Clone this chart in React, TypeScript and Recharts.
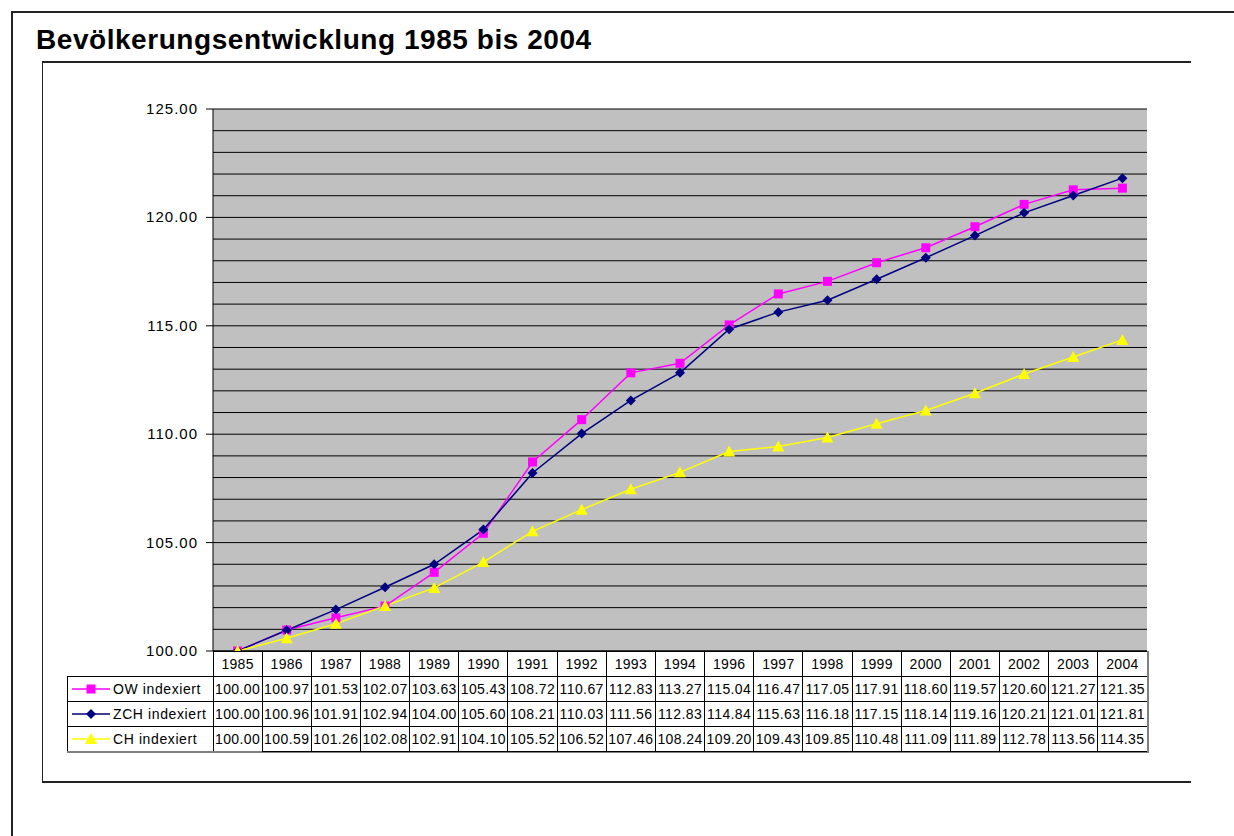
import React from "react";
import { LineChart, Line, XAxis, YAxis, CartesianGrid } from "recharts";

const years = [
  "1985", "1986", "1987", "1988", "1989", "1990", "1991", "1992", "1993", "1994",
  "1996", "1997", "1998", "1999", "2000", "2001", "2002", "2003", "2004",
];
const owValues = [
  100.0, 100.97, 101.53, 102.07, 103.63, 105.43, 108.72, 110.67, 112.83, 113.27,
  115.04, 116.47, 117.05, 117.91, 118.6, 119.57, 120.6, 121.27, 121.35,
];
const zchValues = [
  100.0, 100.96, 101.91, 102.94, 104.0, 105.6, 108.21, 110.03, 111.56, 112.83,
  114.84, 115.63, 116.18, 117.15, 118.14, 119.16, 120.21, 121.01, 121.81,
];
const chValues = [
  100.0, 100.59, 101.26, 102.08, 102.91, 104.1, 105.52, 106.52, 107.46, 108.24,
  109.2, 109.43, 109.85, 110.48, 111.09, 111.89, 112.78, 113.56, 114.35,
];
const yTicks = [
  100, 101, 102, 103, 104, 105, 106, 107, 108, 109, 110, 111, 112,
  113, 114, 115, 116, 117, 118, 119, 120, 121, 122, 123, 124, 125,
];
const labeledTicks = [100, 105, 110, 115, 120, 125];
const seriesNames = ["OW indexiert", "ZCH indexiert", "CH indexiert"];

const data = years.map((year, i) => ({
  year,
  ow: owValues[i],
  zch: zchValues[i],
  ch: chValues[i],
}));

const W = 1234;
const H = 836;
const M = { top: 109, right: 87, left: 63, bottom: 85 };
const Y_AXIS_W = 150;
const X_AXIS_H = 100;
const PLOT_W = W - M.left - Y_AXIS_W - M.right;
const COL_W = PLOT_W / years.length;
const ROW_H = 25;
const LEGEND_W = 146;
const FONT = "'Liberation Sans', Arial, sans-serif";

const colors = { ow: "#FF00FF", zch: "#000080", ch: "#FFFF00" };
const seriesValues = [owValues, zchValues, chValues];
const seriesColors = [colors.ow, colors.zch, colors.ch];

function Marker({ kind, cx, cy }: { kind: number; cx: number; cy: number }) {
  if (kind === 0) return <rect x={cx - 4.5} y={cy - 4.5} width={9} height={9} fill={colors.ow} />;
  if (kind === 1)
    return <polygon points={`${cx},${cy - 5} ${cx + 5},${cy} ${cx},${cy + 5} ${cx - 5},${cy}`} fill={colors.zch} />;
  return <polygon points={`${cx},${cy - 6} ${cx + 6},${cy + 5} ${cx - 6},${cy + 5}`} fill={colors.ch} />;
}

function dotFor(kind: number) {
  return (p: any) => <Marker key={`d${kind}-${p.index}`} kind={kind} cx={p.cx} cy={p.cy} />;
}

// x-axis tick draws one column of the data table (plus the legend column for the first one)
function TableTick(props: any) {
  const { x, y, payload, index } = props;
  const x0 = x - COL_W / 2;
  const last = index === years.length - 1;
  return (
    <g fontFamily={FONT} fontSize={14} fill="#000">
      <rect x={x0} y={y} width={COL_W} height={ROW_H} fill="#fff" stroke="#000" shapeRendering="crispEdges" />
      <text x={x} y={y + 18} textAnchor="middle" letterSpacing={0.3}>{payload.value}</text>
      {seriesValues.map((vals, r) => (
        <g key={r}>
          <rect x={x0} y={y + ROW_H * (r + 1)} width={COL_W} height={ROW_H} fill="#fff" stroke="#000" shapeRendering="crispEdges" />
          <text x={x} y={y + ROW_H * (r + 1) + 18} textAnchor="middle" letterSpacing={0.4}>
            {vals[index].toFixed(2)}
          </text>
        </g>
      ))}
      {last && (
        <g stroke="#808080" strokeWidth={2}>
          <line x1={x0 + COL_W + 1} y1={y} x2={x0 + COL_W + 1} y2={y + ROW_H * 4 + 1} />
        </g>
      )}
      {index === 0 && (
        <g>
          {seriesNames.map((name, r) => {
            const ry = y + ROW_H * (r + 1);
            const lx = x0 - LEGEND_W;
            return (
              <g key={name}>
                <rect x={lx} y={ry} width={LEGEND_W} height={ROW_H} fill="#fff" stroke="#000" shapeRendering="crispEdges" />
                <line x1={lx + 5} y1={ry + 13} x2={lx + 43} y2={ry + 13} stroke={seriesColors[r]} strokeWidth={1.5} />
                <Marker kind={r} cx={lx + 24} cy={ry + 13} />
                <text x={lx + 46} y={ry + 18} letterSpacing={0.6}>{name}</text>
              </g>
            );
          })}
        </g>
      )}
      {index === 0 && (
        <line x1={x0 - LEGEND_W} y1={y + ROW_H * 4 + 1} x2={x0 + PLOT_W + 2} y2={y + ROW_H * 4 + 1} stroke="#808080" strokeWidth={2} />
      )}
    </g>
  );
}

function ValueTick(props: any) {
  const { x, y, payload } = props;
  if (!labeledTicks.includes(payload.value)) return <g />;
  return (
    <g>
      <line x1={x - 7} y1={y} x2={x} y2={y} stroke="#000" />
      <text x={x - 15} y={y + 5} textAnchor="end" fontFamily={FONT} fontSize={15} letterSpacing={1} fill="#000">
        {payload.value.toFixed(2)}
      </text>
    </g>
  );
}

export default function App() {
  return (
    <div style={{ position: "absolute", left: 0, top: 0, width: W, height: H, background: "#fff", overflow: "hidden" }}>
      <div style={{ position: "absolute", left: 11, top: 11, width: W, height: H, borderTop: "2px solid #222", borderLeft: "2px solid #222" }} />
      <div style={{ position: "absolute", left: 42, top: 61, width: 1148, height: 718, borderTop: "2px solid #222", borderLeft: "1px solid #222", borderBottom: "2px solid #222" }} />
      <div style={{ position: "absolute", left: 36, top: 24, fontFamily: FONT, fontWeight: "bold", fontSize: 28, letterSpacing: 0.55, color: "#000", whiteSpace: "nowrap" }}>
        Bevölkerungsentwicklung 1985 bis 2004
      </div>
      <div style={{ position: "absolute", left: 0, top: 0 }}>
        <LineChart width={W} height={H} data={data} margin={M}>
          <CartesianGrid vertical={false} stroke="#000" fill="#C0C0C0" fillOpacity={1} />
          <XAxis dataKey="year" scale="band" height={X_AXIS_H} tick={<TableTick />} tickLine={false} tickSize={0} tickMargin={0} axisLine={{ stroke: "#000" }} interval={0} />
          <XAxis xAxisId="top" dataKey="year" scale="band" orientation="top" height={0} tick={false} tickLine={false} axisLine={{ stroke: "#808080", strokeWidth: 2 }} />
          <YAxis type="number" domain={[100, 125]} ticks={yTicks} width={Y_AXIS_W} tick={<ValueTick />} tickLine={false} tickSize={0} tickMargin={0} axisLine={{ stroke: "#000" }} interval={0} />
          <YAxis yAxisId="right" orientation="right" type="number" domain={[100, 125]} width={0} tick={false} tickLine={false} axisLine={{ stroke: "#808080", strokeWidth: 2 }} />
          <Line dataKey="ow" type="linear" stroke={colors.ow} strokeWidth={1.5} dot={dotFor(0)} isAnimationActive={false} />
          <Line dataKey="zch" type="linear" stroke={colors.zch} strokeWidth={1.5} dot={dotFor(1)} isAnimationActive={false} />
          <Line dataKey="ch" type="linear" stroke={colors.ch} strokeWidth={1.5} dot={dotFor(2)} isAnimationActive={false} />
        </LineChart>
      </div>
    </div>
  );
}
